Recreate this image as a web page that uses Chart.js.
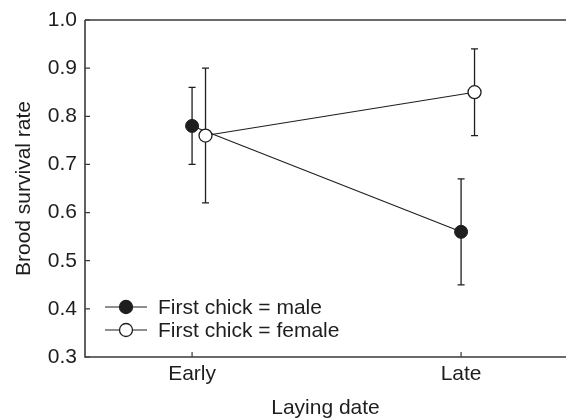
<!DOCTYPE html>
<html>
<head>
<meta charset="utf-8">
<script src="https://cdn.jsdelivr.net/npm/chart.js@4.4.1/dist/chart.umd.min.js"></script>
<style>
html,body{margin:0;padding:0;background:#fff;}
#wrap{width:566px;height:419px;position:relative;}
</style>
</head>
<body>
<div id="wrap"><canvas id="c"></canvas></div>
<script>
// ---- data ----
const categories = ['Early', 'Late'];
const categoryX = [1, 2];
const femaleOffset = 0.05;
const maleValues = [0.78, 0.56];
const maleLow = [0.70, 0.45];
const maleHigh = [0.86, 0.67];
const femaleValues = [0.76, 0.85];
const femaleLow = [0.62, 0.76];
const femaleHigh = [0.90, 0.94];
const yTickValues = [0.3, 0.4, 0.5, 0.6, 0.7, 0.8, 0.9, 1.0];
const seriesLabels = ['First chick = male', 'First chick = female'];
const xTitle = 'Laying date';
const yTitle = 'Brood survival rate';

const INK = '#1e1e1e';
const FONT = {family: 'Liberation Sans, Arial, Helvetica, sans-serif', size: 21};

const maleData = categoryX.map((x, i) => ({x: x, y: maleValues[i], lo: maleLow[i], hi: maleHigh[i]}));
const femaleData = categoryX.map((x, i) => ({x: x + femaleOffset, y: femaleValues[i], lo: femaleLow[i], hi: femaleHigh[i]}));

const decorPlugin = {
  id: 'decor',
  beforeDatasetsDraw(chart) {
    const ctx = chart.ctx, xs = chart.scales.x, ys = chart.scales.y;
    ctx.save();
    ctx.strokeStyle = INK;
    ctx.lineWidth = 1.3;
    chart.data.datasets.forEach(ds => {
      ds.data.forEach(p => {
        const px = xs.getPixelForValue(p.x);
        const yl = ys.getPixelForValue(p.lo), yh = ys.getPixelForValue(p.hi);
        ctx.beginPath();
        ctx.moveTo(px, yl); ctx.lineTo(px, yh);
        ctx.moveTo(px - 3.5, yl); ctx.lineTo(px + 3.5, yl);
        ctx.moveTo(px - 3.5, yh); ctx.lineTo(px + 3.5, yh);
        ctx.stroke();
      });
    });
    ctx.restore();
  },
  afterDraw(chart) {
    const ctx = chart.ctx, xs = chart.scales.x, ys = chart.scales.y, ca = chart.chartArea;
    ctx.save();
    ctx.strokeStyle = '#3a3a3a';
    ctx.lineWidth = 1.6;
    ctx.beginPath();
    ctx.moveTo(ca.left, ca.top); ctx.lineTo(ca.left, ca.bottom); ctx.lineTo(ca.right, ca.bottom);
    ctx.moveTo(ca.left, ca.top); ctx.lineTo(ca.right, ca.top);
    ctx.stroke();
    ctx.lineWidth = 1.2;
    ctx.beginPath();
    ys.ticks.forEach(t => {
      const py = ys.getPixelForValue(t.value);
      ctx.moveTo(ca.left, py); ctx.lineTo(ca.left + 5, py);
    });
    xs.ticks.forEach(t => {
      const px = xs.getPixelForValue(t.value);
      ctx.moveTo(px, ca.bottom); ctx.lineTo(px, ca.bottom - 5);
    });
    ctx.stroke();
    const rows = [
      {label: chart.data.datasets[1].label, fill: INK, y: 307},
      {label: chart.data.datasets[0].label, fill: '#ffffff', y: 330}
    ];
    ctx.font = FONT.size + 'px ' + FONT.family;
    ctx.textBaseline = 'middle';
    ctx.textAlign = 'left';
    rows.forEach(r => {
      ctx.strokeStyle = INK;
      ctx.lineWidth = 1.1;
      ctx.beginPath();
      ctx.moveTo(105, r.y); ctx.lineTo(147, r.y);
      ctx.stroke();
      ctx.beginPath();
      ctx.arc(126, r.y, 6.5, 0, Math.PI * 2);
      ctx.fillStyle = r.fill;
      ctx.fill();
      ctx.lineWidth = 1.3;
      ctx.stroke();
      ctx.fillStyle = INK;
      ctx.fillText(r.label, 158, r.y + 1);
    });
    ctx.restore();
  }
};

new Chart(document.getElementById('c'), {
  type: 'scatter',
  data: {
    datasets: [
      {
        label: seriesLabels[1],
        data: femaleData,
        showLine: true,
        borderColor: INK,
        borderWidth: 1.1,
        pointRadius: 6.5,
        pointBorderWidth: 1.3,
        pointBackgroundColor: '#ffffff',
        pointBorderColor: INK,
        order: 1
      },
      {
        label: seriesLabels[0],
        data: maleData,
        showLine: true,
        borderColor: INK,
        borderWidth: 1.1,
        pointRadius: 6.5,
        pointBorderWidth: 1,
        pointBackgroundColor: INK,
        pointBorderColor: INK,
        order: 2
      }
    ]
  },
  options: {
    responsive: true,
    maintainAspectRatio: false,
    animation: false,
    devicePixelRatio: 1,
    layout: {autoPadding: false, padding: {top: 20, right: 0, left: 0, bottom: 0}},
    plugins: {legend: {display: false}, tooltip: {enabled: false}},
    scales: {
      x: {
        type: 'linear',
        min: 0.602,
        max: 2.39,
        grid: {display: false, drawTicks: false},
        border: {display: false},
        afterFit(s) { s.height = 62; s.paddingLeft = 0; s.paddingRight = 0; },
        afterBuildTicks(s) { s.ticks = categoryX.map(v => ({value: v})); },
        ticks: {
          color: INK, font: FONT, padding: 5, maxRotation: 0,
          callback: (v) => { const i = categoryX.indexOf(v); return i >= 0 ? categories[i] : ''; }
        },
        title: {display: true, text: xTitle, color: INK, font: FONT, padding: {top: 0, bottom: -2}}
      },
      y: {
        min: 0.3,
        max: 1.0,
        grid: {display: false, drawTicks: false},
        border: {display: false},
        afterFit(s) { s.width = 85; s.paddingTop = 0; s.paddingBottom = 0; },
        afterBuildTicks(s) { s.ticks = yTickValues.map(v => ({value: v})); },
        ticks: {color: INK, font: FONT, padding: 8, callback: (v) => v.toFixed(1)},
        title: {display: true, text: yTitle, color: INK, font: FONT, padding: {top: 12, bottom: 0}}
      }
    }
  },
  plugins: [decorPlugin]
});
</script>
</body>
</html>
